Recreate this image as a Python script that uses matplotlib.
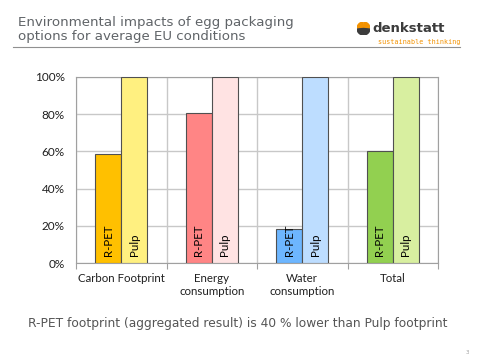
import numpy as np
import matplotlib.pyplot as plt
from matplotlib.patches import Wedge

categories = ["Carbon Footprint", "Energy\nconsumption", "Water\nconsumption", "Total"]
rpet = [58.4, 80.5, 18.3, 60.2]
pulp = [100, 100, 100, 100]
rpet_colors = ["#FFC000", "#FF8585", "#6DB6FF", "#92D050"]
pulp_colors = ["#FFF080", "#FFE3E3", "#BDDDFF", "#D8EFA0"]
yticks = [0, 20, 40, 60, 80, 100]

fig = plt.figure(figsize=(4.8, 3.6), dpi=100)

# Header
fig.text(18 / 480, 1 - 29.5 / 360, "Environmental impacts of egg packaging\noptions for average EU conditions",
         family="DejaVu Sans", size=9.6, color="#606468", va="center", linespacing=1.15)
fig.add_artist(plt.Line2D([13 / 480, 460 / 480], [1 - 47 / 360, 1 - 47 / 360],
                          color="#909090", lw=0.8))
fig.text(372 / 480, 1 - 28 / 360, "denkstatt", family="DejaVu Sans", weight="bold",
         size=9.5, color="#3C3C3C", va="center")
fig.text(378 / 480, 1 - 42 / 360, "sustainable thinking", family="DejaVu Sans Mono",
         size=4.9, color="#F39200", va="center")
wax = fig.add_axes([357 / 480, 1 - 35 / 360, 13 / 480, 13 / 360])
wax.add_patch(Wedge((0.5, 0.5), 0.5, 95, 175, color="#F39200"))
wax.add_patch(Wedge((0.5, 0.5), 0.5, 5, 85, color="#F39200"))
wax.add_patch(Wedge((0.5, 0.5), 0.5, 185, 355, color="#3C3C3C"))
wax.set_xlim(0, 1)
wax.set_ylim(0, 1)
wax.set_aspect("equal")
wax.axis("off")

ax = fig.add_axes([76 / 480, 97 / 360, 362 / 480, 186 / 360])
x = np.arange(len(categories))
w = 0.29
ax.bar(x - w / 2, rpet, w, color=rpet_colors, edgecolor="#505050", lw=0.8, zorder=3)
ax.bar(x + w / 2, pulp, w, color=pulp_colors, edgecolor="#505050", lw=0.8, zorder=3)
for xi in x:
    ax.text(xi - w / 2, 3.8, "R-PET", rotation=90, ha="center", va="bottom",
            family="Lato", size=8.3, zorder=4)
    ax.text(xi + w / 2, 3.8, "Pulp", rotation=90, ha="center", va="bottom",
            family="Lato", size=8.3, zorder=4)

ax.set_xlim(-0.5, len(categories) - 0.5)
ax.set_ylim(0, 100)
ax.set_yticks(yticks)
ax.set_yticklabels(["%d%%" % v for v in yticks], family="Lato", size=8.5, color="#202020")
ax.set_xticks(np.arange(-0.5, len(categories)))
ax.set_xticklabels([])
ax.set_xticks(x, minor=True)
ax.set_xticklabels(categories, minor=True, family="Lato", size=8.3, color="#202020")
ax.tick_params(axis="x", which="major", length=4, color="#A0A0A0")
ax.tick_params(axis="x", which="minor", length=0, pad=7.5)
ax.tick_params(axis="y", length=0, pad=8)
ax.grid(True, color="#C8C8C8", lw=1, zorder=0)
for s in ax.spines.values():
    s.set_color("#A0A0A0")

fig.text(238 / 480, 1 - 323 / 360, "R-PET footprint (aggregated result) is 40 % lower than Pulp footprint",
         family="DejaVu Sans", size=8.8, color="#555555", ha="center", va="center")
fig.text(467 / 480, 1 - 352 / 360, "3", family="DejaVu Sans", size=4, color="#A0A0A0",
         ha="center", va="center")

fig.savefig("out.png", dpi=100)
